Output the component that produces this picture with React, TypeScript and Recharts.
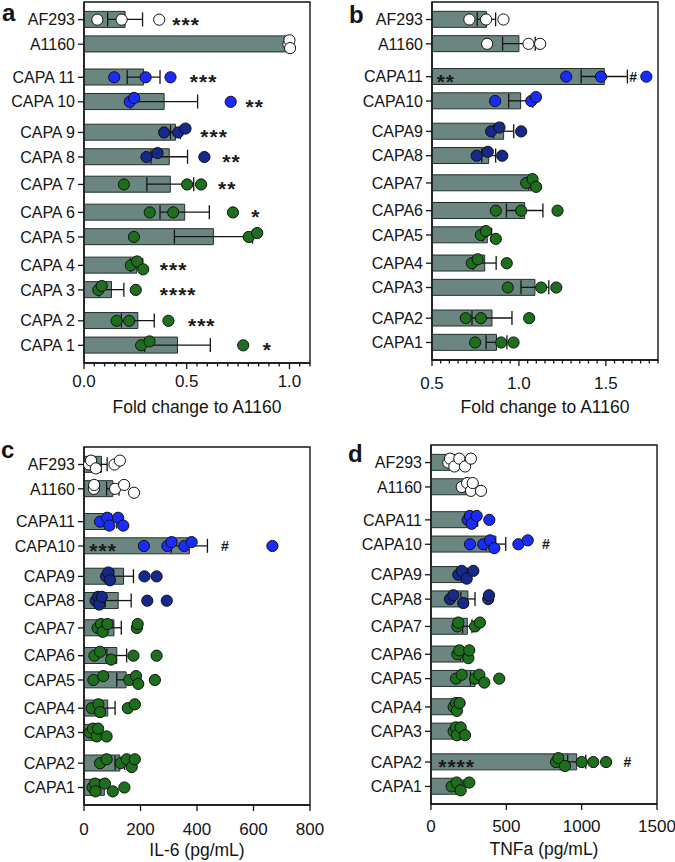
import { Bar, ComposedChart, ErrorBar, ReferenceArea, Scatter, XAxis, YAxis } from 'recharts'

const FONT = '"Liberation Sans", Arial, Helvetica, sans-serif'
const INK = '#141414'
const BAR_FILL = '#6b8681'
const BAR_EDGE = '#22302d'

// row labels, top to bottom
const strainsA = ['AF293', 'A1160', 'CAPA 11', 'CAPA 10', 'CAPA 9', 'CAPA 8', 'CAPA 7', 'CAPA 6', 'CAPA 5', 'CAPA 4', 'CAPA 3', 'CAPA 2', 'CAPA 1']
const strains = ['AF293', 'A1160', 'CAPA11', 'CAPA10', 'CAPA9', 'CAPA8', 'CAPA7', 'CAPA6', 'CAPA5', 'CAPA4', 'CAPA3', 'CAPA2', 'CAPA1']

// a: fold change to A1160
const meansA = [0.2, 1.0, 0.29, 0.39, 0.445, 0.415, 0.42, 0.49, 0.63, 0.256, 0.134, 0.262, 0.455]
const errsA = [0.085, 0, 0.08, 0.163, 0.024, 0.089, 0.114, 0.12, 0.19, 0.03, 0.06, 0.08, 0.16]
const dotsA = [
  [0.065, 0.183, 0.366],
  [0.995, 1.0, 1.003],
  [0.147, 0.3, 0.421],
  [0.223, 0.244, 0.714],
  [0.39, 0.458, 0.494],
  [0.304, 0.358, 0.586],
  [0.194, 0.502, 0.57],
  [0.32, 0.434, 0.725],
  [0.243, 0.802, 0.843],
  [0.228, 0.259, 0.288],
  [0.07, 0.086, 0.252],
  [0.159, 0.22, 0.411],
  [0.278, 0.319, 0.775],
]
const notesA = [
  { row: 'AF293', x: 0.43, text: '***' },
  { row: 'CAPA 11', x: 0.515, text: '***' },
  { row: 'CAPA 10', x: 0.786, text: '**' },
  { row: 'CAPA 9', x: 0.566, text: '***' },
  { row: 'CAPA 8', x: 0.673, text: '**' },
  { row: 'CAPA 7', x: 0.652, text: '**' },
  { row: 'CAPA 6', x: 0.814, text: '*' },
  { row: 'CAPA 4', x: 0.369, text: '***' },
  { row: 'CAPA 3', x: 0.369, text: '****' },
  { row: 'CAPA 2', x: 0.506, text: '***' },
  { row: 'CAPA 1', x: 0.87, text: '*' },
]

// b: fold change to A1160
const meansB = [0.813, 1.0, 1.491, 1.01, 0.912, 0.826, 1.073, 1.033, 0.818, 0.803, 1.092, 0.845, 0.871]
const errsB = [0.053, 0.094, 0.133, 0.069, 0.058, 0.04, 0.017, 0.105, 0.025, 0.066, 0.08, 0.115, 0.06]
const dotsB = [
  [0.715, 0.811, 0.911],
  [0.817, 1.055, 1.122],
  [1.272, 1.472, 1.733],
  [0.863, 1.071, 1.098],
  [0.84, 0.888, 1.013],
  [0.757, 0.821, 0.904],
  [1.042, 1.078, 1.099],
  [0.867, 1.013, 1.222],
  [0.781, 0.81, 0.867],
  [0.729, 0.763, 0.93],
  [0.936, 1.128, 1.215],
  [0.694, 0.781, 1.059],
  [0.748, 0.898, 0.969],
]
const notesB = [
  { row: 'CAPA11', x: 0.527, text: '**' },
  { row: 'CAPA11', x: 1.657, text: '#' },
]

// c: IL-6 (pg/mL)
const meansC = [62, 102, 98, 373, 140, 121, 106, 116, 149, 84, 45, 127, 72]
const errsC = [20, 22, 18, 64, 35, 46, 26, 35, 33, 26, 10, 17, 18]
const dotsC = [
  [18, 25, 42, 108, 127],
  [35, 36, 110, 142, 177],
  [57, 82, 90, 121, 139],
  [212, 295, 310, 355, 381, 667],
  [78, 86, 92, 214, 257],
  [41, 50, 54, 63, 224, 293],
  [48, 60, 66, 83, 187, 190],
  [37, 57, 96, 175, 257],
  [33, 68, 160, 184, 192, 251],
  [27, 51, 57, 155, 180],
  [21, 31, 45, 50, 80],
  [57, 80, 130, 151, 169, 180],
  [30, 39, 41, 74, 102, 143],
]
const notesC = [
  { row: 'CAPA10', x: 19, text: '***' },
  { row: 'CAPA10', x: 499, text: '#' },
]

// d: TNFa (pg/mL)
const meansD = [181, 256, 285, 431, 221, 245, 241, 214, 292, 172, 182, 967, 188]
const errsD = [25, 20, 25, 65, 20, 47, 31, 20, 30, 10, 15, 60, 25]
const dotsD = [
  [115, 126, 155, 188, 226, 265],
  [204, 240, 265, 277, 332],
  [243, 258, 270, 303, 387],
  [259, 347, 392, 420, 580, 642],
  [181, 204, 237, 281],
  [126, 148, 214, 380, 385],
  [175, 181, 292, 325],
  [175, 188, 248, 254],
  [166, 204, 292, 321, 354, 453],
  [150, 166, 172, 190],
  [150, 165, 172, 197, 226],
  [830, 845, 889, 1000, 1077, 1162],
  [137, 170, 197, 254],
]
const notesD = [
  { row: 'CAPA10', x: 763, text: '#' },
  { row: 'CAPA2', x: 48, text: '****' },
  { row: 'CAPA2', x: 1303, text: '#' },
]

// layout: slot of each row on the category axis, groups get a little extra room
const rowSlots = [0, 1, 2.35, 3.35, 4.6, 5.6, 6.72, 7.86, 8.86, 10.02, 11.02, 12.28, 13.28]
const slotDomain: [number, number] = [-0.72, 14.0]

const WHITE = '#ffffff'
const BLUE = '#1a2bff'
const NAVY = '#15288c'
const GREEN = '#1d6e1d'
const rowColors = [WHITE, WHITE, BLUE, BLUE, NAVY, NAVY, GREEN, GREEN, GREEN, GREEN, GREEN, GREEN, GREEN]

// nudge overlapping dots up/down a little
function spread(values: number[], span: number) {
  const sorted = [...values].sort((p, q) => p - q)
  const out: { v: number; dy: number }[] = []
  let prev = -Infinity
  let prevDy = 0
  for (const v of sorted) {
    let dy = 0
    if ((v - prev) / span < 0.05) dy = prevDy === 0 ? -0.16 : -prevDy
    out.push({ v, dy })
    prev = v
    prevDy = dy
  }
  return out
}

const dotShape = (p: any) => (
  <circle cx={p.cx} cy={p.cy} r={5.6} fill={p.payload.color} stroke="#111" strokeWidth={1} />
)

const noteShape = (p: any) => {
  const t = p.payload.text
  const hash = t === '#'
  return (
    <text
      x={p.cx}
      y={p.cy + (hash ? 5 : 12)}
      textAnchor={hash ? 'middle' : 'start'}
      fontSize={hash ? 14 : 21}
      fontWeight="bold"
      letterSpacing={hash ? 0 : 1}
      fill="#1a1a1a"
    >
      {t}
    </text>
  )
}

function Panel({
  left,
  top,
  width,
  height,
  rightMargin,
  yAxisWidth,
  plotHeight,
  rows,
  means,
  errs,
  dots,
  notes,
  domain,
  major,
  step,
  digits,
  labelDy,
  title,
  titleOffset,
}: {
  left: number
  top: number
  width: number
  height: number
  rightMargin: number
  yAxisWidth: number
  plotHeight: number
  rows: string[]
  means: number[]
  errs: number[]
  dots: number[][]
  notes: { row: string; x: number; text: string }[]
  domain: [number, number]
  major: number[]
  step: number
  digits: number
  labelDy: number
  title: string
  titleOffset: number
}) {
  const barRows = rows.map((_, i) => ({ slot: rowSlots[i], x: means[i], err: errs[i] }))
  const span = domain[1] - domain[0]
  const dotRows = dots.flatMap((vals, i) =>
    spread(vals, span).map((p) => ({ slot: rowSlots[i] + p.dy, x: p.v, color: rowColors[i] })),
  )
  const noteRows = notes.map((n) => ({ slot: rowSlots[rows.indexOf(n.row)], x: n.x, text: n.text }))
  const ticks: number[] = []
  for (let v = domain[0]; v <= domain[1] + 1e-9; v += step) ticks.push(Math.round(v * 1000) / 1000)

  const xTick = (p: any) => {
    const v = p.payload.value
    const isMajor = major.some((m) => Math.abs(m - v) < 1e-6)
    return (
      <g>
        <line x1={p.x} x2={p.x} y1={p.y} y2={p.y + (isMajor ? 6 : 3.5)} stroke={INK} strokeWidth={1.3} />
        {isMajor && (
          <text x={p.x} y={p.y + labelDy} textAnchor="middle" fontSize={17} fill={INK}>
            {v.toFixed(digits)}
          </text>
        )}
      </g>
    )
  }

  return (
    <div style={{ position: 'absolute', left, top }}>
      <ComposedChart
        layout="vertical"
        width={width}
        height={height}
        data={barRows}
        margin={{ top: 2, right: rightMargin, bottom: 0, left: 0 }}
      >
        <XAxis
          type="number"
          dataKey="x"
          domain={domain}
          ticks={ticks}
          interval={0}
          allowDataOverflow
          tickSize={0}
          tickMargin={0}
          tickLine={false}
          tick={xTick}
          axisLine={{ stroke: INK, strokeWidth: 1.4 }}
          height={height - 2 - plotHeight}
          label={{ value: title, position: 'insideBottom', offset: titleOffset, fontSize: 17.5, fill: INK }}
        />
        <YAxis
          type="number"
          dataKey="slot"
          domain={slotDomain}
          ticks={rowSlots}
          interval={0}
          width={yAxisWidth}
          allowDataOverflow
          tickFormatter={(v) => rows[rowSlots.indexOf(v)] ?? ''}
          tick={{ fontSize: 16, fill: INK }}
          tickLine={{ stroke: INK, strokeWidth: 1.3 }}
          axisLine={{ stroke: INK, strokeWidth: 1.4 }}
          tickSize={6}
          tickMargin={3}
        />
        {/* points and notes sit on their own copy of the row axis so the bar band stays wide */}
        <YAxis yAxisId="pts" type="number" dataKey="slot" domain={slotDomain} allowDataOverflow hide />
        <ReferenceArea
          x1={domain[0]}
          x2={domain[1]}
          y1={slotDomain[0]}
          y2={slotDomain[1]}
          fill="none"
          stroke={INK}
          strokeWidth={1.4}
        />
        <Bar dataKey="x" barSize={16} fill={BAR_FILL} stroke={BAR_EDGE} strokeWidth={1} isAnimationActive={false}>
          <ErrorBar dataKey="err" direction="x" width={7} stroke={INK} strokeWidth={1.3} />
        </Bar>
        <Scatter yAxisId="pts" data={dotRows} shape={dotShape} isAnimationActive={false} />
        <Scatter yAxisId="pts" data={noteRows} shape={noteShape} isAnimationActive={false} />
      </ComposedChart>
    </div>
  )
}

export default function App() {
  return (
    <div
      style={{
        position: 'absolute',
        left: 0,
        top: 0,
        width: 675,
        height: 862,
        background: '#fff',
        fontFamily: FONT,
        color: INK,
      }}
    >
      <Panel
        left={0}
        top={0}
        width={330}
        height={420}
        rightMargin={20}
        yAxisWidth={84}
        plotHeight={361}
        rows={strainsA}
        means={meansA}
        errs={errsA}
        dots={dotsA}
        notes={notesA}
        domain={[0, 1.1]}
        major={[0, 0.5, 1.0]}
        step={0.05}
        digits={1}
        labelDy={24}
        title="Fold change to A1160"
        titleOffset={7}
      />
      <Panel
        left={340}
        top={0}
        width={335}
        height={420}
        rightMargin={17}
        yAxisWidth={92}
        plotHeight={358}
        rows={strains}
        means={meansB}
        errs={errsB}
        dots={dotsB}
        notes={notesB}
        domain={[0.5, 1.8]}
        major={[0.5, 1.0, 1.5]}
        step={0.05}
        digits={1}
        labelDy={29}
        title="Fold change to A1160"
        titleOffset={7}
      />
      <Panel
        left={0}
        top={445}
        width={335}
        height={417}
        rightMargin={25}
        yAxisWidth={84}
        plotHeight={358}
        rows={strains}
        means={meansC}
        errs={errsC}
        dots={dotsC}
        notes={notesC}
        domain={[0, 800]}
        major={[0, 200, 400, 600, 800]}
        step={200}
        digits={0}
        labelDy={30}
        title="IL-6 (pg/mL)"
        titleOffset={6}
      />
      <Panel
        left={340}
        top={443}
        width={335}
        height={419}
        rightMargin={18}
        yAxisWidth={91}
        plotHeight={359}
        rows={strains}
        means={meansD}
        errs={errsD}
        dots={dotsD}
        notes={notesD}
        domain={[0, 1500]}
        major={[0, 500, 1000, 1500]}
        step={500}
        digits={0}
        labelDy={28}
        title="TNFa (pg/mL)"
        titleOffset={7}
      />
      <svg width={675} height={862} style={{ position: 'absolute', left: 0, top: 0, pointerEvents: 'none' }}>
        <g fontSize={24} fontWeight="bold" fill={INK}>
          <text x={2} y={21}>a</text>
          <text x={349} y={23}>b</text>
          <text x={1} y={458}>c</text>
          <text x={348} y={462}>d</text>
        </g>
      </svg>
    </div>
  )
}
